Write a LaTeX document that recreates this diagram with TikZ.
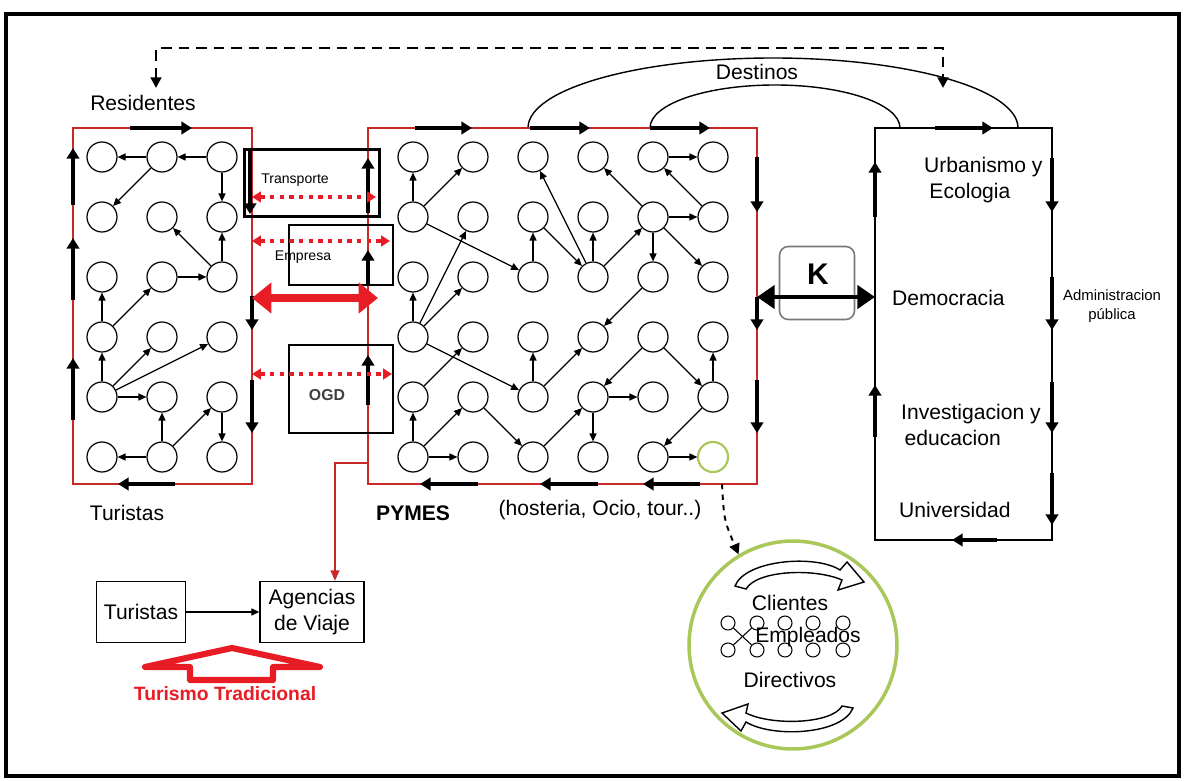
\documentclass[tikz,border=0pt]{standalone}
\usepackage{fontspec}
\setmainfont{Liberation Sans}
\usetikzlibrary{arrows.meta,positioning}

\definecolor{boxred}{RGB}{200,40,40}
\definecolor{hotred}{RGB}{232,28,36}
\definecolor{ringgreen}{RGB}{170,200,90}
\definecolor{kgray}{RGB}{120,120,120}

\tikzset{
  lbl/.style={font=\fontsize{12}{15}\selectfont},
  dot/.style={circle,draw,line width=0.7pt,minimum size=0.6cm,inner sep=0pt},
  minidot/.style={circle,draw,line width=0.6pt,minimum size=0.28cm,inner sep=0pt},
  link/.style={line width=0.7pt,-{Triangle[length=4.5pt,width=4pt]}},
  flow/.style={line width=1.8pt,-{Triangle[length=6pt,width=7pt]}},
  edgered/.style={boxred,line width=1.2pt},
  reddots/.style={hotred,line width=2pt,dash pattern=on 2.5pt off 3pt,
    {Triangle[length=5pt,width=6pt]}-{Triangle[length=5pt,width=6pt]}},
  sbox/.style={draw,line width=1.4pt,inner sep=0pt},
  nbox/.style={draw,line width=0.8pt,align=center,inner sep=0pt,lbl},
}

\begin{document}
\begin{tikzpicture}[x=0.02cm,y=-0.02cm]
\useasboundingbox (0,0) rectangle (1185,780);
\draw[line width=2.5pt] (6,14) rectangle (1179,776);

% dashed loop on top and the Destinos arcs
\coordinate (resid) at (156,88);
\coordinate (admin) at (943,88);
\draw[line width=1.5pt,dash pattern=on 6pt off 4pt,
  {Triangle[length=6pt,width=6pt]}-{Triangle[length=6pt,width=6pt]}]
  (resid) -- (156,48) -- (943,48) -- (admin);
\draw[line width=0.8pt] (528,128) .. controls (528,89) and (638,58) .. (773,58)
  .. controls (908,58) and (1018,89) .. (1018,128);
\draw[line width=0.8pt] (650,128) .. controls (650,104) and (706,85) .. (775,85)
  .. controls (844,85) and (900,104) .. (900,128);
\node[lbl] (destinos) at (757,72) {Destinos};
\node[lbl] (residentes) at (143,103) {Residentes};

% left box (residents / tourists)
\draw[edgered] (73,128) rectangle (252,484);
\draw[flow] (130,128) -- (192,128);
\draw[flow] (73,205) -- (73,148);
\draw[flow] (73,300) -- (73,238);
\draw[flow] (73,420) -- (73,358);
\draw[flow] (250,150) -- (250,214);
\draw[flow] (252,296) -- (252,330);
\draw[flow] (252,380) -- (252,433);
\draw[flow] (175,484) -- (118,484);
\foreach \c in {1,2,3}
  \foreach \r in {1,...,6}
    \node[dot] (L\c\r) at ({42+60*\c},{97+60*\r}) {};
\foreach \a/\b in {31/21,21/11,21/12,31/32,33/32,33/22,23/33,14/13,14/23,
                   15/14,15/24,15/34,15/25,26/25,26/16,26/35,35/36}
  \draw[link] (L\a) -- (L\b);
\node[lbl] (turistasL) at (127,513) {Turistas};

% PYMES box
\draw[edgered] (368,128) rectangle (757,484);
\draw[flow] (415,128) -- (472,128);
\draw[flow] (530,128) -- (590,128);
\draw[flow] (650,128) -- (710,128);
\draw[flow] (368,213) -- (368,158);
\draw[flow] (368,285) -- (368,250);
\draw[flow] (368,405) -- (368,355);
\draw[flow] (757,157) -- (757,212);
\draw[flow] (757,297) -- (757,330);
\draw[flow] (757,380) -- (757,433);
\draw[flow] (478,484) -- (420,484);
\draw[flow] (598,484) -- (540,484);
\draw[flow] (700,484) -- (643,484);
\foreach \c in {1,...,6}
  \foreach \r in {1,...,6}
    \node[dot] (R\c\r) at ({353+60*\c},{97+60*\r}) {};
\node[dot,draw=ringgreen,line width=1.2pt,fill=white] at (R66) {};
\foreach \a/\b in {12/11,12/21,12/33,33/32,32/43,43/31,43/42,43/52,52/41,52/63,
                   52/62,52/53,51/61,62/51,14/13,14/22,14/23,14/35,15/24,16/15,
                   16/25,16/26,25/36,35/34,35/44,53/44,36/45,45/46,54/45,45/55,
                   54/65,65/64,65/56,56/66}
  \draw[link] (R\a) -- (R\b);
\node[lbl,font=\fontsize{12}{15}\selectfont\bfseries,anchor=west] (pymes) at (370,513) {PYMES};
\node[lbl] (sectores) at (600,510) {(hosteria, Ocio, tour..)};

% bridges between the two boxes
\node[sbox,minimum width=2.7cm,minimum height=1.34cm] (transp) at (312,183) {};
\node[font=\fontsize{8}{9}\selectfont] at (295,180) {Transporte};
\node[sbox,minimum width=2.08cm,minimum height=1.2cm] (empresa) at (341,255) {};
\node[font=\fontsize{8}{9}\selectfont] at (303,257) {Empresa};
\node[sbox,minimum width=2.08cm,minimum height=1.76cm] (ogd) at (341,389) {};
\node[font=\fontsize{9}{10}\selectfont\bfseries,text=black!75] at (327,395) {OGD};
\draw[reddots] (252,197) -- (376,197);
\draw[reddots] (252,241) -- (390,241);
\draw[reddots] (252,374) -- (392,374);
\draw[hotred,line width=4pt,
  {Triangle[length=11pt,width=17pt]}-{Triangle[length=11pt,width=17pt]}]
  (252,298) -- (378,298);

% public sphere box
\draw[line width=0.8pt] (875,128) rectangle (1052,540);
\draw[flow] (935,128) -- (993,128);
\draw[flow] (875,217) -- (875,162);
\draw[flow] (875,437) -- (875,385);
\draw[flow] (1052,158) -- (1052,212);
\draw[flow] (1052,277) -- (1052,330);
\draw[flow] (1052,382) -- (1052,433);
\draw[flow] (1052,473) -- (1052,525);
\draw[flow] (997,540) -- (952,540);
\node[lbl,align=left,anchor=west] (urban) at (918,180) {Urbanismo y\\\hspace*{3pt}Ecologia};
\node[lbl,anchor=west] (democ) at (886,298) {Democracia};
\node[lbl,align=left,anchor=west] (invest) at (895,425) {Investigacion y\\\hspace*{2pt}educacion};
\node[lbl,anchor=west] (univ) at (893,510) {Universidad};
\node[font=\fontsize{8.5}{10.5}\selectfont,align=center] (adminpub) at (1112,306) {Administracion\\pública};

% knowledge link
\node[draw=kgray,line width=0.9pt,rounded corners=5pt,minimum width=1.5cm,
  minimum height=1.46cm] (kbox) at (817,283) {};
\node[font=\fontsize{17}{17}\selectfont\bfseries] at (818,274) {K};
\draw[line width=2.8pt,
  {Triangle[length=10pt,width=13pt]}-{Triangle[length=10pt,width=13pt]}]
  (757,297) -- (875,297);

% traditional tourism
\node[nbox,minimum width=1.78cm,minimum height=1.22cm] (turbox) at (141,612) {Turistas};
\node[nbox,minimum width=2.08cm,minimum height=1.22cm] (agen) at (312,612) {Agencias\\de Viaje};
\draw[line width=0.6pt,-{Triangle[length=4.5pt,width=4pt]}] (turbox) -- (agen);
\coordinate (redtap) at (335,463);
\draw[edgered,-{Triangle[length=6pt,width=5pt]}] (368,463) -- (redtap) -- (redtap |- agen.north);
\draw[hotred,line width=3.5pt,line join=round,fill=white]
  (145,667) -- (232,648) -- (320,667) -- (273,667) -- (273,680) -- (190,680) -- (190,667) -- cycle;
\node[text=hotred,font=\fontsize{11}{12}\selectfont\bfseries] (tradic) at (225,694) {Turismo Tradicional};

% enterprise detail
\node[circle,draw=ringgreen,line width=2pt,minimum size=4.16cm] (ring) at (793,645) {};
\coordinate (tap) at (722,484);
\draw[line width=1.1pt,dashed,-{Triangle[length=6pt,width=6pt]}]
  (tap) .. controls (724,520) .. (ring.121);
\draw[line width=0.8pt,fill=white] (735,586) .. controls (745,560) and (815,554) .. (840,570)
  -- (847,562) -- (864,582) -- (838,590) -- (842,580)
  .. controls (815,568) and (757,570) .. (746,589) -- cycle;
\draw[line width=0.8pt,fill=white] (853,708) .. controls (842,735) and (772,738) .. (746,722)
  -- (741,731) -- (722,713) -- (748,704) -- (746,713)
  .. controls (772,726) and (832,724) .. (842,706) -- cycle;
\foreach \i/\x in {1/728,2/757,3/785,4/813,5/843} {
  \node[minidot] (S\i) at (\x,623) {};
  \node[minidot] (T\i) at (\x,650) {};
}
\draw[line width=0.6pt] (S1) -- (T2);
\draw[line width=0.6pt] (S2) -- (T1);
\node[lbl] (clientes) at (790,603) {Clientes};
\node[lbl] (emplead) at (808,637) {Empleados};
\node[lbl] (directiv) at (790,680) {Directivos};
\end{tikzpicture}
\end{document}
